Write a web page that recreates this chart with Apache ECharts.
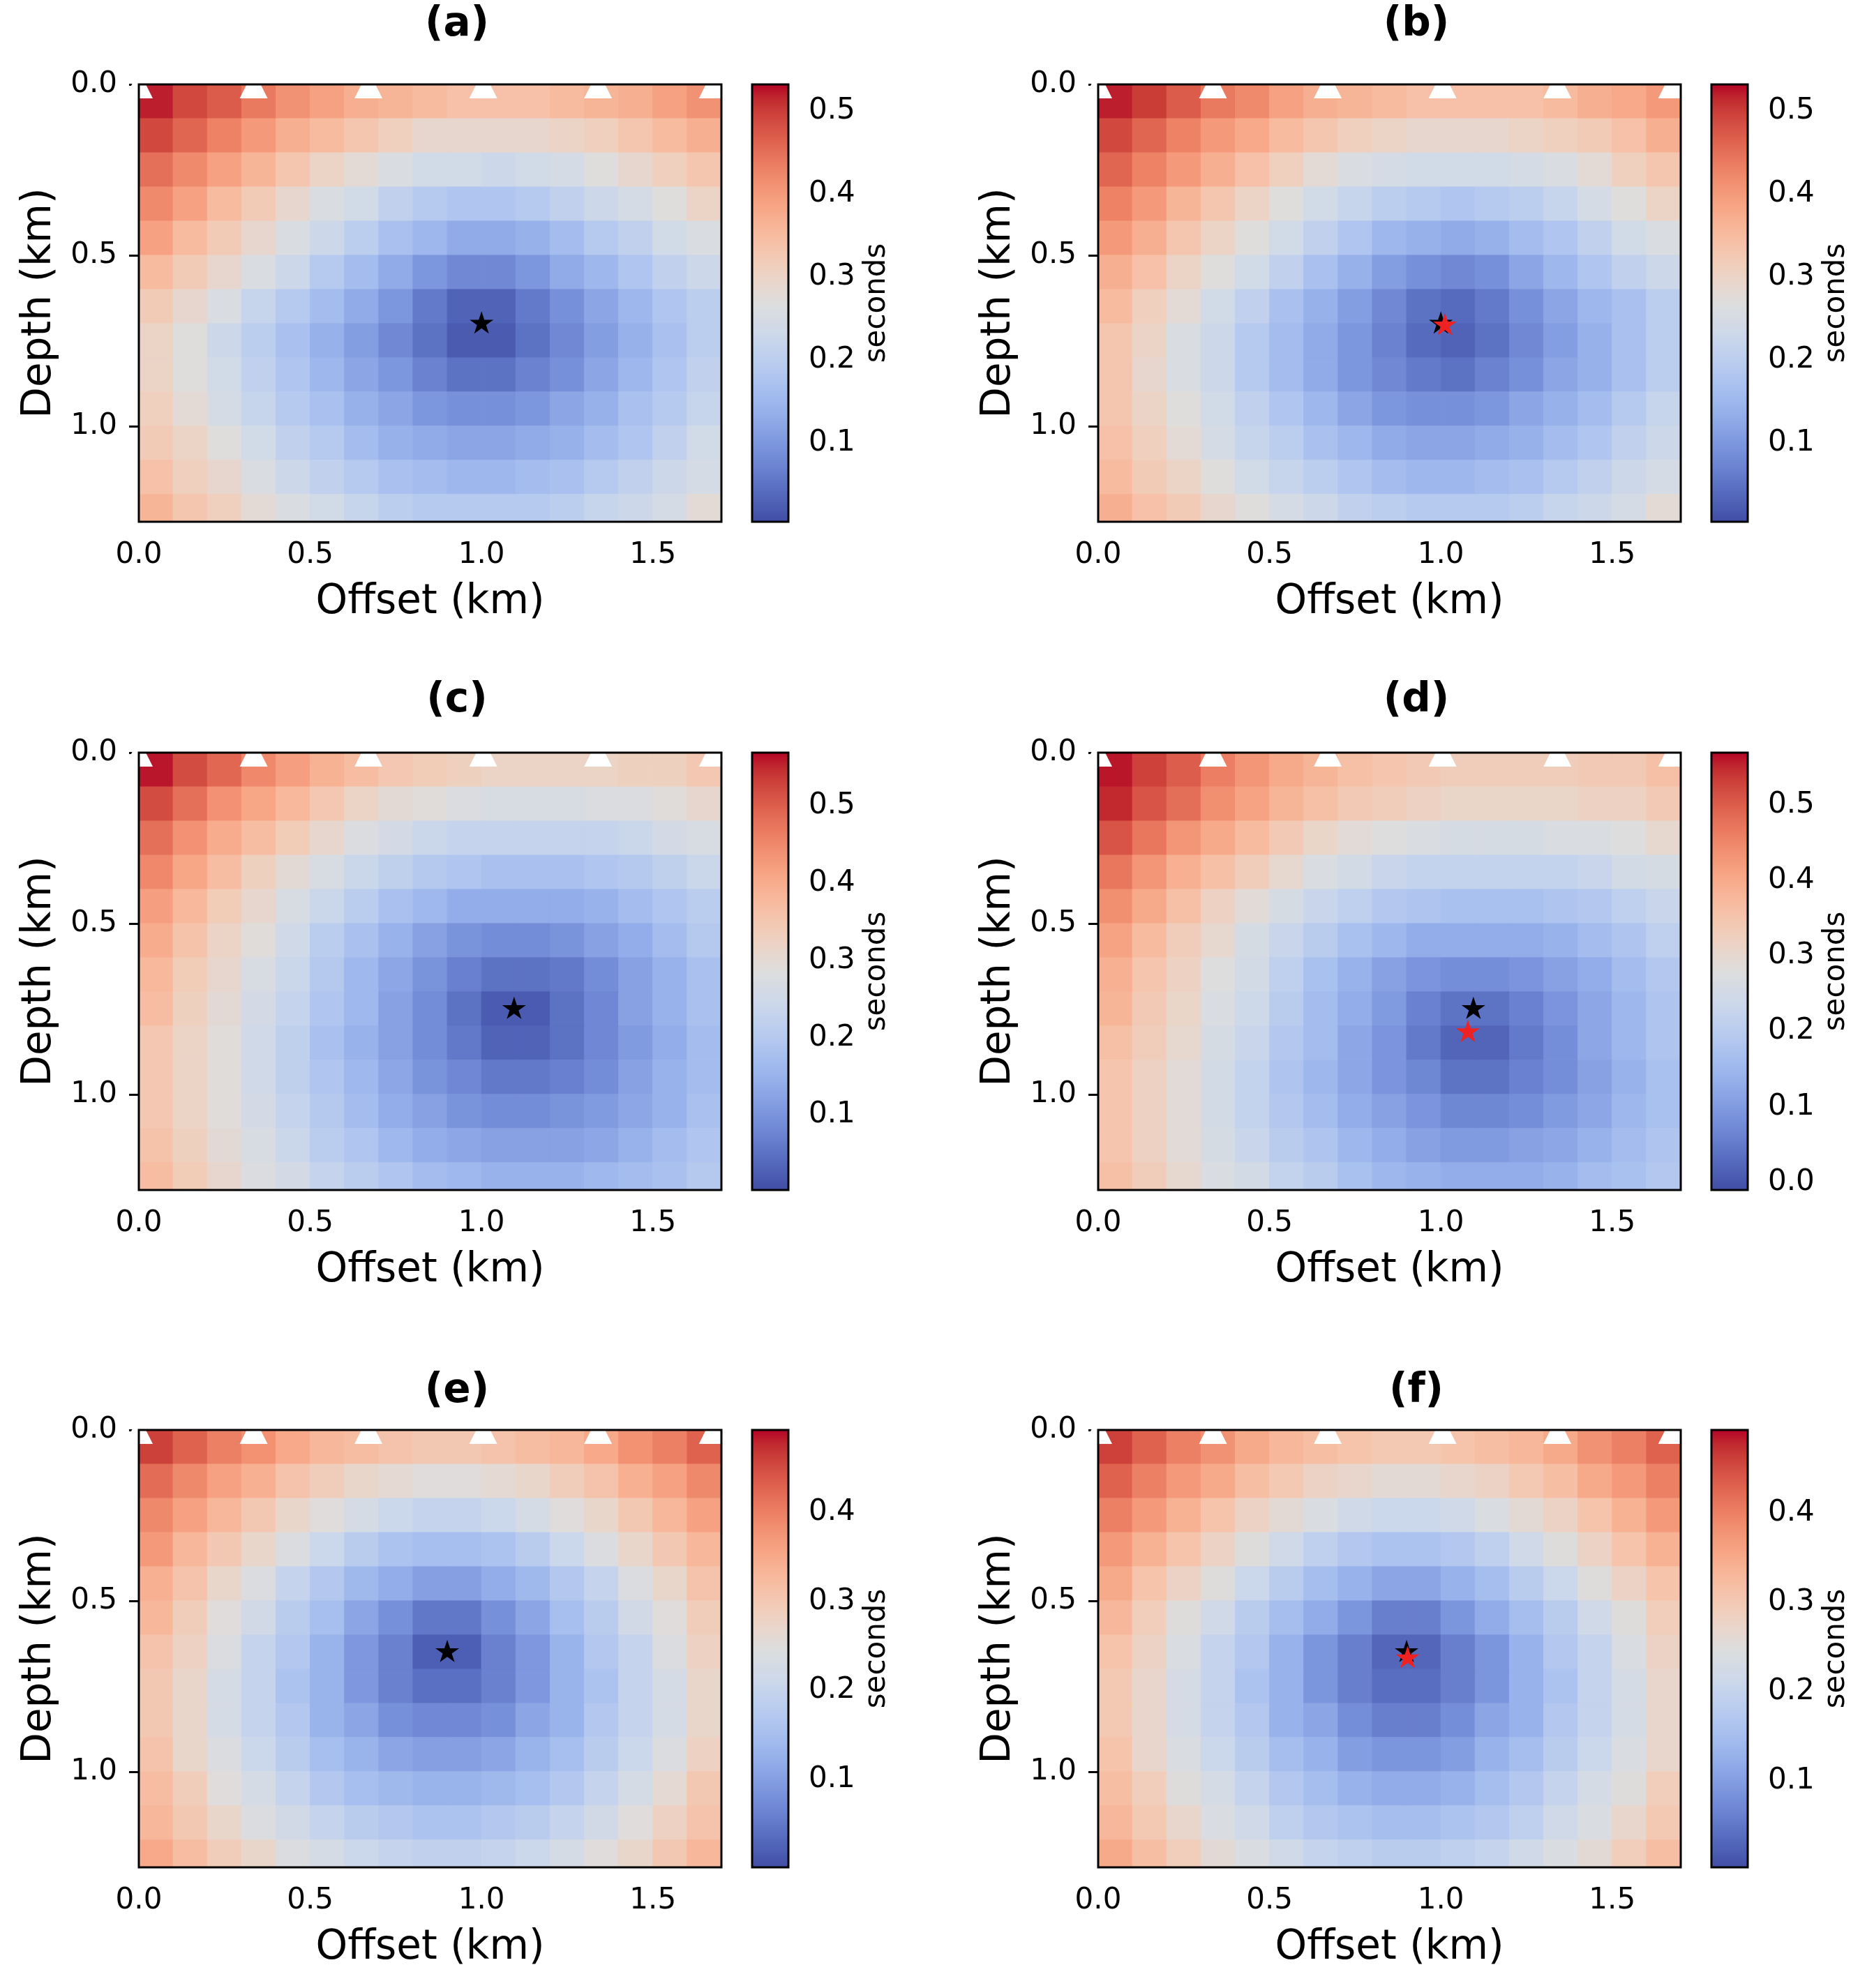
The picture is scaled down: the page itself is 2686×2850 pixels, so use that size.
<!DOCTYPE html>
<html><head><meta charset="utf-8">
<script src="https://cdn.jsdelivr.net/npm/echarts@6/dist/echarts.min.js"></script>
<style>html,body{margin:0;padding:0;background:#fff}#c{width:2686px;height:2850px}</style>
</head><body><div id="c"></div>
<script>
// ---------------- data ----------------
const offsetCenters = [0.05,0.15,0.25,0.35,0.45,0.55,0.65,0.75,0.85,0.95,1.05,1.15,1.25,1.35,1.45,1.55,1.65];
const depthCenters = [0.05,0.15,0.25,0.35,0.45,0.55,0.65,0.75,0.85,0.95,1.05,1.15,1.25];
const stations = [0, 0.335, 0.67, 1.005, 1.34, 1.675];
const xTicks = [0, 0.5, 1.0, 1.5];
const yTicks = [0, 0.5, 1.0];
const panelTitles = ['(a)','(b)','(c)','(d)','(e)','(f)'];

const timesA = [
[0.52,0.49,0.47,0.44,0.41,0.39,0.37,0.36,0.35,0.34,0.34,0.34,0.35,0.36,0.37,0.39,0.41],
[0.49,0.46,0.43,0.40,0.37,0.35,0.33,0.31,0.29,0.29,0.29,0.29,0.30,0.31,0.33,0.35,0.37],
[0.45,0.42,0.39,0.36,0.33,0.30,0.28,0.26,0.24,0.24,0.23,0.24,0.25,0.27,0.29,0.31,0.33],
[0.42,0.39,0.35,0.32,0.29,0.26,0.24,0.21,0.19,0.18,0.18,0.19,0.21,0.23,0.25,0.27,0.30],
[0.39,0.35,0.32,0.29,0.26,0.23,0.20,0.17,0.15,0.13,0.13,0.14,0.16,0.19,0.21,0.24,0.26],
[0.35,0.32,0.29,0.26,0.23,0.19,0.16,0.13,0.10,0.08,0.08,0.10,0.13,0.15,0.18,0.21,0.23],
[0.32,0.29,0.26,0.22,0.19,0.16,0.13,0.10,0.06,0.03,0.03,0.06,0.09,0.12,0.15,0.18,0.20],
[0.30,0.27,0.23,0.20,0.17,0.14,0.11,0.08,0.05,0.02,0.02,0.05,0.08,0.11,0.14,0.17,0.20],
[0.30,0.27,0.24,0.21,0.18,0.15,0.12,0.10,0.07,0.05,0.05,0.07,0.09,0.12,0.15,0.18,0.21],
[0.31,0.28,0.25,0.22,0.19,0.17,0.14,0.12,0.10,0.09,0.09,0.10,0.12,0.14,0.17,0.19,0.22],
[0.32,0.30,0.27,0.24,0.21,0.19,0.16,0.14,0.13,0.12,0.12,0.13,0.14,0.16,0.18,0.21,0.24],
[0.34,0.31,0.29,0.26,0.23,0.21,0.19,0.17,0.16,0.15,0.15,0.16,0.17,0.19,0.21,0.23,0.25],
[0.36,0.33,0.31,0.28,0.26,0.24,0.22,0.20,0.19,0.19,0.19,0.19,0.20,0.22,0.23,0.25,0.28]];

const timesB = [
[0.52,0.50,0.47,0.44,0.42,0.39,0.37,0.36,0.35,0.34,0.34,0.34,0.34,0.35,0.37,0.38,0.40],
[0.49,0.46,0.43,0.40,0.38,0.35,0.33,0.31,0.30,0.29,0.29,0.29,0.30,0.31,0.32,0.34,0.37],
[0.46,0.43,0.40,0.37,0.34,0.31,0.28,0.26,0.25,0.24,0.24,0.24,0.25,0.26,0.28,0.31,0.33],
[0.43,0.40,0.36,0.33,0.30,0.27,0.24,0.22,0.20,0.19,0.18,0.19,0.20,0.22,0.25,0.27,0.30],
[0.40,0.37,0.33,0.30,0.27,0.24,0.21,0.18,0.15,0.14,0.13,0.14,0.16,0.18,0.21,0.24,0.26],
[0.37,0.34,0.30,0.27,0.24,0.21,0.17,0.14,0.11,0.09,0.08,0.09,0.12,0.15,0.18,0.21,0.23],
[0.35,0.31,0.28,0.24,0.21,0.17,0.14,0.11,0.08,0.05,0.04,0.06,0.09,0.12,0.15,0.17,0.20],
[0.33,0.30,0.26,0.23,0.19,0.16,0.13,0.10,0.07,0.04,0.03,0.05,0.08,0.11,0.14,0.17,0.20],
[0.33,0.29,0.26,0.23,0.19,0.16,0.13,0.10,0.08,0.06,0.05,0.07,0.09,0.12,0.14,0.17,0.20],
[0.33,0.30,0.27,0.24,0.21,0.18,0.15,0.12,0.10,0.09,0.09,0.10,0.12,0.14,0.16,0.19,0.22],
[0.34,0.31,0.28,0.25,0.22,0.20,0.17,0.15,0.13,0.12,0.12,0.13,0.14,0.16,0.18,0.21,0.23],
[0.35,0.32,0.30,0.27,0.24,0.22,0.20,0.18,0.16,0.15,0.15,0.16,0.17,0.19,0.21,0.23,0.25],
[0.37,0.34,0.32,0.29,0.27,0.25,0.23,0.21,0.20,0.19,0.19,0.19,0.20,0.22,0.23,0.25,0.28]];

const timesC = [
[0.56,0.52,0.49,0.45,0.42,0.39,0.37,0.35,0.34,0.33,0.32,0.32,0.32,0.32,0.33,0.33,0.35],
[0.52,0.48,0.44,0.41,0.38,0.35,0.32,0.30,0.29,0.28,0.27,0.27,0.27,0.28,0.28,0.29,0.31],
[0.48,0.44,0.40,0.37,0.34,0.31,0.28,0.26,0.24,0.23,0.23,0.23,0.23,0.23,0.24,0.26,0.27],
[0.45,0.41,0.37,0.33,0.30,0.27,0.24,0.22,0.20,0.19,0.18,0.18,0.18,0.19,0.20,0.22,0.24],
[0.42,0.38,0.34,0.31,0.27,0.24,0.21,0.18,0.16,0.14,0.14,0.14,0.14,0.15,0.17,0.19,0.21],
[0.40,0.36,0.32,0.29,0.25,0.21,0.18,0.15,0.12,0.10,0.09,0.09,0.10,0.12,0.14,0.17,0.20],
[0.38,0.34,0.31,0.27,0.24,0.20,0.16,0.13,0.10,0.07,0.05,0.05,0.06,0.09,0.12,0.15,0.18],
[0.37,0.33,0.30,0.26,0.23,0.19,0.16,0.12,0.09,0.05,0.02,0.02,0.05,0.08,0.12,0.15,0.18],
[0.35,0.32,0.29,0.25,0.22,0.18,0.15,0.12,0.09,0.06,0.03,0.03,0.05,0.08,0.11,0.14,0.17],
[0.35,0.32,0.29,0.25,0.22,0.19,0.16,0.13,0.10,0.08,0.06,0.06,0.07,0.09,0.12,0.15,0.17],
[0.35,0.32,0.29,0.26,0.23,0.20,0.17,0.14,0.12,0.10,0.09,0.09,0.10,0.11,0.13,0.15,0.18],
[0.36,0.33,0.30,0.27,0.24,0.21,0.19,0.16,0.14,0.13,0.12,0.12,0.12,0.13,0.15,0.17,0.19],
[0.37,0.34,0.31,0.28,0.26,0.23,0.21,0.19,0.17,0.16,0.15,0.15,0.15,0.16,0.17,0.18,0.20]];

const timesD = [
[0.56,0.53,0.50,0.46,0.43,0.40,0.38,0.36,0.35,0.34,0.33,0.33,0.33,0.33,0.34,0.34,0.36],
[0.55,0.51,0.48,0.44,0.41,0.38,0.36,0.34,0.33,0.32,0.31,0.31,0.31,0.31,0.32,0.32,0.34],
[0.51,0.47,0.43,0.40,0.37,0.34,0.31,0.29,0.28,0.27,0.26,0.26,0.26,0.27,0.27,0.28,0.30],
[0.47,0.43,0.39,0.36,0.33,0.30,0.27,0.25,0.23,0.22,0.22,0.22,0.22,0.22,0.23,0.25,0.26],
[0.44,0.40,0.36,0.32,0.29,0.26,0.23,0.21,0.19,0.18,0.17,0.17,0.17,0.18,0.19,0.21,0.23],
[0.41,0.37,0.33,0.30,0.26,0.23,0.20,0.17,0.15,0.13,0.13,0.13,0.13,0.14,0.16,0.18,0.21],
[0.39,0.35,0.32,0.28,0.25,0.21,0.17,0.14,0.11,0.09,0.08,0.08,0.09,0.11,0.13,0.16,0.19],
[0.38,0.34,0.31,0.27,0.24,0.20,0.16,0.13,0.10,0.06,0.04,0.04,0.06,0.09,0.12,0.15,0.18],
[0.36,0.33,0.30,0.26,0.23,0.19,0.16,0.12,0.09,0.05,0.02,0.02,0.05,0.08,0.12,0.15,0.18],
[0.35,0.32,0.29,0.25,0.22,0.18,0.15,0.12,0.09,0.07,0.04,0.04,0.06,0.08,0.11,0.14,0.17],
[0.35,0.32,0.29,0.25,0.22,0.19,0.16,0.13,0.11,0.09,0.07,0.07,0.08,0.10,0.12,0.15,0.17],
[0.35,0.32,0.29,0.26,0.23,0.20,0.18,0.15,0.13,0.11,0.10,0.10,0.11,0.12,0.14,0.16,0.18],
[0.36,0.33,0.30,0.27,0.25,0.22,0.20,0.17,0.15,0.14,0.13,0.13,0.13,0.14,0.16,0.17,0.19]];

const timesE = [
[0.46,0.43,0.40,0.38,0.35,0.33,0.32,0.31,0.30,0.30,0.31,0.32,0.33,0.35,0.38,0.40,0.43],
[0.42,0.39,0.36,0.34,0.31,0.29,0.27,0.26,0.25,0.25,0.26,0.27,0.29,0.31,0.34,0.36,0.39],
[0.39,0.36,0.33,0.30,0.27,0.25,0.23,0.21,0.20,0.20,0.21,0.23,0.25,0.27,0.30,0.33,0.36],
[0.37,0.33,0.30,0.27,0.24,0.21,0.18,0.16,0.15,0.15,0.16,0.18,0.21,0.24,0.27,0.30,0.33],
[0.34,0.31,0.27,0.24,0.20,0.17,0.14,0.12,0.10,0.10,0.12,0.14,0.17,0.20,0.24,0.27,0.31],
[0.33,0.29,0.25,0.22,0.18,0.15,0.11,0.08,0.05,0.05,0.08,0.11,0.15,0.18,0.22,0.25,0.29],
[0.31,0.28,0.24,0.20,0.17,0.13,0.09,0.06,0.02,0.02,0.06,0.09,0.13,0.17,0.20,0.24,0.28],
[0.30,0.27,0.23,0.20,0.16,0.13,0.09,0.06,0.04,0.04,0.06,0.09,0.13,0.16,0.20,0.23,0.27],
[0.30,0.27,0.23,0.20,0.17,0.13,0.11,0.08,0.07,0.07,0.08,0.11,0.13,0.17,0.20,0.23,0.27],
[0.31,0.27,0.24,0.21,0.18,0.15,0.13,0.11,0.10,0.10,0.11,0.13,0.15,0.18,0.21,0.24,0.28],
[0.32,0.29,0.25,0.23,0.20,0.17,0.15,0.14,0.13,0.13,0.14,0.15,0.17,0.20,0.23,0.26,0.30],
[0.33,0.30,0.27,0.24,0.22,0.20,0.18,0.17,0.16,0.16,0.17,0.18,0.20,0.22,0.25,0.28,0.31],
[0.35,0.32,0.29,0.27,0.24,0.23,0.21,0.20,0.19,0.19,0.20,0.21,0.23,0.25,0.27,0.30,0.33]];

const timesF = [
[0.46,0.43,0.40,0.38,0.35,0.33,0.32,0.31,0.30,0.30,0.31,0.32,0.33,0.35,0.38,0.40,0.43],
[0.43,0.40,0.37,0.35,0.32,0.30,0.28,0.27,0.26,0.26,0.27,0.28,0.30,0.32,0.35,0.37,0.40],
[0.40,0.37,0.34,0.31,0.28,0.26,0.24,0.22,0.21,0.21,0.22,0.24,0.26,0.28,0.31,0.34,0.37],
[0.37,0.34,0.31,0.28,0.25,0.22,0.19,0.17,0.16,0.16,0.17,0.19,0.22,0.25,0.28,0.31,0.34],
[0.35,0.31,0.28,0.25,0.21,0.18,0.15,0.13,0.11,0.11,0.13,0.15,0.18,0.21,0.25,0.28,0.31],
[0.33,0.29,0.25,0.22,0.18,0.15,0.12,0.09,0.06,0.06,0.09,0.12,0.15,0.18,0.22,0.25,0.29],
[0.31,0.28,0.24,0.20,0.17,0.13,0.09,0.06,0.03,0.03,0.06,0.09,0.13,0.17,0.20,0.24,0.28],
[0.30,0.27,0.23,0.20,0.16,0.13,0.09,0.06,0.04,0.04,0.06,0.09,0.13,0.16,0.20,0.23,0.27],
[0.30,0.27,0.23,0.20,0.17,0.13,0.11,0.08,0.06,0.06,0.08,0.11,0.13,0.17,0.20,0.23,0.27],
[0.31,0.27,0.24,0.21,0.18,0.15,0.13,0.10,0.09,0.09,0.10,0.13,0.15,0.18,0.21,0.24,0.27],
[0.32,0.29,0.25,0.23,0.20,0.17,0.15,0.13,0.12,0.12,0.13,0.15,0.17,0.20,0.23,0.25,0.29],
[0.33,0.30,0.27,0.24,0.22,0.19,0.17,0.16,0.15,0.15,0.16,0.17,0.19,0.22,0.24,0.27,0.30],
[0.35,0.32,0.29,0.26,0.24,0.22,0.20,0.19,0.18,0.18,0.19,0.20,0.22,0.24,0.26,0.29,0.32]];

const colorRanges = [[0.005,0.532],[0.005,0.532],[0.003,0.569],[-0.01,0.569],[0.001,0.493],[0.003,0.493]];
const colorbarTicks = [
  [0.1,0.2,0.3,0.4,0.5],[0.1,0.2,0.3,0.4,0.5],[0.1,0.2,0.3,0.4,0.5],
  [0.0,0.1,0.2,0.3,0.4,0.5],[0.1,0.2,0.3,0.4],[0.1,0.2,0.3,0.4]];
const trueSources = [[1.0,0.70],[1.0,0.70],[1.095,0.75],[1.095,0.75],[0.9,0.65],[0.9,0.65]];
const predictedSources = [null,[1.012,0.705],null,[1.079,0.818],null,[0.903,0.668]];
const allTimes = [timesA,timesB,timesC,timesD,timesE,timesF];

// ---------------- styles / layout ----------------
const coolwarm = ['#414ea5','#4b5cb1','#5569bc','#5f76c7','#6b83d1','#758ed9','#809ae0','#8ba5e5','#95b0ea','#a0b9ed','#aac1ef','#b4c8ef','#bdcfee','#c6d4ec','#cfd9e8','#d6dbe3','#dddddd','#e5d8d1','#ecd3c5','#f1ccb8','#f5c4ac','#f7bb9f','#f7b193','#f7a686','#f49a7b','#f18d6f','#ec7f63','#e57059','#de604d','#d55045','#cb3e38','#c0282f','#b40426'];
const FONT = 'DejaVu Sans';
const COL_LEFT = [199, 1574], ROW_TOP = [121, 1079, 2050];
const PW = 835, PH = 627, CB_DX = 879, CB_W = 52;
const TITLE_Y = [36, 1005, 1995];
const HALF = 0.05;
const STAR = 'path://M0,-100L-22.45,-30.9L-95.1,-30.9L-36.3,11.8L-58.8,80.9L0,38.2L58.8,80.9L36.3,11.8L95.1,-30.9L22.45,-30.9Z';

function renderCell(params, api) {
  const x = api.value(0), z = api.value(1);
  const p0 = api.coord([x - HALF, z - HALF]);
  const p1 = api.coord([x + HALF, z + HALF]);
  const cs = params.coordSys;
  const r = echarts.graphic.clipRectByRect({
    x: Math.min(p0[0], p1[0]), y: Math.min(p0[1], p1[1]),
    width: Math.abs(p1[0] - p0[0]), height: Math.abs(p1[1] - p0[1])
  }, {x: cs.x, y: cs.y, width: cs.width, height: cs.height});
  if (!r) return;
  const c = api.visual('color');
  return {type: 'rect', shape: r, style: {fill: c, stroke: c, lineWidth: 1}};
}
const barStops = coolwarm.map((c, i) => ({offset: i / (coolwarm.length - 1), color: c}));
function renderBar(params, api) {
  const p0 = api.coord([0, api.value(0)]);
  const p1 = api.coord([1, api.value(1)]);
  return {type: 'rect',
    shape: {x: Math.min(p0[0], p1[0]), y: Math.min(p0[1], p1[1]), width: Math.abs(p1[0] - p0[0]), height: Math.abs(p1[1] - p0[1])},
    style: {fill: new echarts.graphic.LinearGradient(0, 1, 0, 0, barStops)}};
}

const grid = [], xAxis = [], yAxis = [], series = [], visualMap = [], graphic = [];
const tickStyle = {show: true, inside: false, length: 14, lineStyle: {color: '#000', width: 3}};
const labelBase = {fontSize: 42, fontFamily: FONT, color: '#000', formatter: v => v.toFixed(1)};

for (let k = 0; k < 6; k++) {
  const col = k % 2, row = Math.floor(k / 2);
  const L = COL_LEFT[col], T = ROW_TOP[row];
  const rng = colorRanges[k];
  grid.push({left: L, top: T, width: PW, height: PH});
  grid.push({left: L + CB_DX, top: T, width: CB_W, height: PH});
  const gi = 2 * k, ci = 2 * k + 1;
  xAxis.push({gridIndex: gi, type: 'value', min: 0, max: 1.7, splitLine: {show: false}, axisLine: {show: false},
    axisTick: Object.assign({}, tickStyle, {customValues: xTicks}),
    axisLabel: Object.assign({}, labelBase, {customValues: xTicks, margin: 27})});
  yAxis.push({gridIndex: gi, type: 'value', inverse: true, min: 0, max: 1.28, splitLine: {show: false}, axisLine: {show: false},
    axisTick: Object.assign({}, tickStyle, {customValues: yTicks}),
    axisLabel: Object.assign({}, labelBase, {customValues: yTicks, margin: 31})});
  xAxis.push({gridIndex: ci, type: 'value', min: 0, max: 1, show: false});
  yAxis.push({gridIndex: ci, type: 'value', position: 'right', min: rng[0], max: rng[1], splitLine: {show: false}, axisLine: {show: false},
    axisTick: Object.assign({}, tickStyle, {customValues: colorbarTicks[k]}),
    axisLabel: Object.assign({}, labelBase, {customValues: colorbarTicks[k], margin: 29})});

  const data = [];
  allTimes[k].forEach((rowVals, j) => rowVals.forEach((t, i) => data.push([offsetCenters[i], depthCenters[j], t])));
  visualMap.push({type: 'continuous', show: false, seriesIndex: series.length, dimension: 2, min: rng[0], max: rng[1], inRange: {color: coolwarm}});
  series.push({type: 'custom', xAxisIndex: gi, yAxisIndex: gi, renderItem: renderCell, data: data, encode: {x: 0, y: 1}, z: 1, silent: true});
  series.push({type: 'scatter', xAxisIndex: gi, yAxisIndex: gi, data: stations.map(s => [s, 0]), symbol: 'triangle', symbolSize: [40, 40],
    itemStyle: {color: '#ffffff', opacity: 1}, clip: true, z: 3, silent: true});
  series.push({type: 'scatter', xAxisIndex: gi, yAxisIndex: gi, data: [trueSources[k]], symbol: STAR, symbolSize: [34, 32], symbolOffset: [0, -1.6],
    itemStyle: {color: '#000000', opacity: 1}, z: 4, silent: true});
  if (predictedSources[k]) {
    series.push({type: 'scatter', xAxisIndex: gi, yAxisIndex: gi, data: [predictedSources[k]], symbol: STAR, symbolSize: [34, 32], symbolOffset: [0, -1.6],
      itemStyle: {color: '#ee2222', opacity: 1}, z: 5, silent: true});
  }
  series.push({type: 'custom', xAxisIndex: ci, yAxisIndex: ci, renderItem: renderBar, data: [[rng[0], rng[1]]], encode: {x: -1, y: [0, 1]}, z: 1, silent: true});

  graphic.push({type: 'rect', z: 100, shape: {x: L, y: T, width: PW, height: PH}, style: {fill: 'none', stroke: '#000', lineWidth: 3}, silent: true});
  graphic.push({type: 'rect', z: 100, shape: {x: L + CB_DX, y: T, width: CB_W, height: PH}, style: {fill: 'none', stroke: '#000', lineWidth: 3}, silent: true});
  graphic.push({type: 'text', z: 100, x: L + 456, y: TITLE_Y[row], style: {text: panelTitles[k], fontSize: 58, fontWeight: 'bold', fontFamily: FONT, fill: '#000', align: 'center', verticalAlign: 'middle'}});
  graphic.push({type: 'text', z: 100, x: L + PW / 2, y: T + PH + 116, style: {text: 'Offset (km)', fontSize: 58, fontFamily: FONT, fill: '#000', align: 'center', verticalAlign: 'middle'}});
  graphic.push({type: 'text', z: 100, x: L - 142, y: T + PH / 2, rotation: Math.PI / 2, style: {text: 'Depth (km)', fontSize: 58, fontFamily: FONT, fill: '#000', align: 'center', verticalAlign: 'middle'}});
  graphic.push({type: 'text', z: 100, x: L + 1058, y: T + PH / 2, rotation: Math.PI / 2, style: {text: 'seconds', fontSize: 42, fontFamily: FONT, fill: '#000', align: 'center', verticalAlign: 'middle'}});
}

const chart = echarts.init(document.getElementById('c'), null, {renderer: 'canvas'});
chart.setOption({animation: false, backgroundColor: '#ffffff', grid, xAxis, yAxis, visualMap, series, graphic});
</script></body></html>
